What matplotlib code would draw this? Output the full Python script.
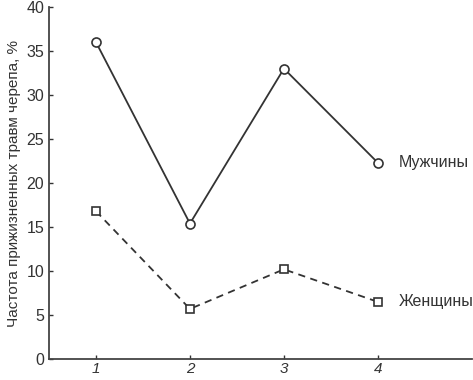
import matplotlib
matplotlib.use("Agg")
import matplotlib.pyplot as plt

plt.rcParams['font.family'] = ['Liberation Sans', 'DejaVu Sans']

groups = [1, 2, 3, 4]
men = [36.0, 15.4, 33.0, 22.3]
women = [16.8, 5.7, 10.2, 6.5]
series_labels = ["Мужчины", "Женщины"]
ylabel = "Частота прижизненных травм черепа, %"

fig = plt.figure(figsize=(4.73, 3.80), dpi=100)
ax = fig.add_axes([0.1036, 0.055, 0.894, 0.9266])

col = '#333333'
ax.plot(groups, men, '-', color=col, lw=1.3, marker='o', ms=6.5,
        mfc='white', mec=col, mew=1.2)
ax.plot(groups, women, '--', color=col, lw=1.3, marker='s', ms=6,
        mfc='white', mec=col, mew=1.2, dashes=(4, 3))

ax.text(4.22, men[-1], series_labels[0], fontsize=11.5, color='#333333', va='center', ha='left')
ax.text(4.22, women[-1], series_labels[1], fontsize=11.5, color='#333333', va='center', ha='left')

ax.set_xlim(0.5, 5.0)
ax.set_ylim(0, 40)
ax.set_xticks(groups)
ax.set_xticklabels([str(g) for g in groups], fontstyle='italic')
ax.set_yticks(range(0, 41, 5))
ax.tick_params(direction='in', length=3, width=1, colors='#333333', labelsize=11.5, labelcolor='#333333')
ax.tick_params(axis='x', pad=2, labelsize=11)
for s in ['top', 'right']:
    ax.spines[s].set_visible(False)
for s in ['left', 'bottom']:
    ax.spines[s].set_color('#444444')
    ax.spines[s].set_linewidth(1.3)
ax.set_ylabel(ylabel, fontsize=11, color='#333333', labelpad=4)

fig.savefig('out.png', dpi=100)
